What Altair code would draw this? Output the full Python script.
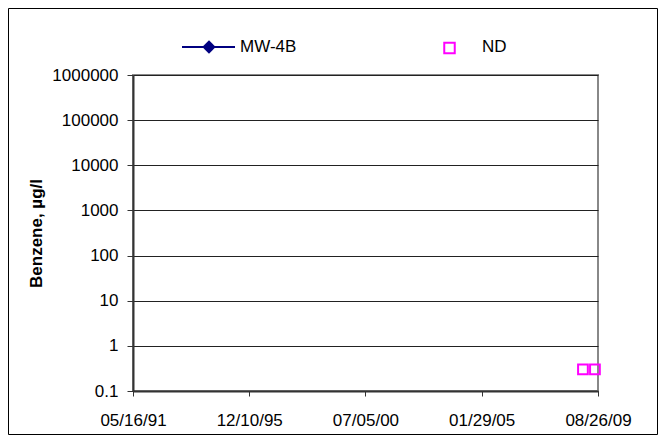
import altair as alt
import pandas as pd

# Data
nd_dates = ["2009-01-22", "2009-07-13"]
nd_values = [0.3, 0.3]
x_tick_dates = ["1991-05-16", "1995-12-10", "2000-07-05", "2005-01-29", "2009-08-26"]
y_ticks = [0.1, 1, 10, 100, 1000, 10000, 100000, 1000000]

nd_df = pd.DataFrame({"date": pd.to_datetime(nd_dates), "value": nd_values})

FONT = "Liberation Sans"
NAVY = "#000080"
MAGENTA = "#FF00FF"
FS = 17

x_enc = alt.X(
    "date:T",
    scale=alt.Scale(domain=[pd.Timestamp("1991-05-16").isoformat(), pd.Timestamp("2009-08-26").isoformat()]),
    axis=alt.Axis(
        values=[pd.Timestamp(d).isoformat() for d in x_tick_dates],
        format="%m/%d/%y",
        title=None,
        grid=False,
        domainColor="#333333",
        domainWidth=2,
        tickColor="#333333",
        tickSize=5,
        labelFont=FONT,
        labelFontSize=FS,
        labelColor="black",
        labelPadding=16,
        labelFlush=False,
    ),
)
y_enc = alt.Y(
    "value:Q",
    scale=alt.Scale(type="log", domain=[0.1, 1000000], nice=False),
    axis=alt.Axis(
        values=y_ticks,
        labelExpr="datum.value < 1 ? '0.1' : format(datum.value, 'd')",
        title="Benzene, µg/l",
        titleFont=FONT,
        titleFontSize=FS,
        titleFontWeight="bold",
        titleColor="black",
        titlePadding=6,
        grid=True,
        gridColor="#222222",
        gridWidth=1,
        domainColor="#333333",
        domainWidth=2,
        tickColor="#333333",
        tickSize=6,
        labelFont=FONT,
        labelFontSize=FS,
        labelColor="black",
        labelPadding=9,
    ),
)

points = alt.Chart(nd_df).mark_point(
    shape="square", filled=False, color=MAGENTA, strokeWidth=2, size=95, opacity=1
).encode(x=x_enc, y=y_enc)

# Outer chart frame
frame = alt.Chart(pd.DataFrame({"a": [0]})).mark_rect(
    fill=None, stroke="black", strokeWidth=1
).encode(
    x=alt.value(-124.5), x2=alt.value(524.5), y=alt.value(-66.5), y2=alt.value(359.5)
)

# Legend
LY = -28
leg_line = alt.Chart(pd.DataFrame({"a": [0]})).mark_rule(color=NAVY, strokeWidth=2).encode(
    x=alt.value(49), x2=alt.value(102), y=alt.value(LY)
)
leg_diamond = alt.Chart(pd.DataFrame({"a": [0]})).mark_point(
    shape="diamond", filled=True, color=NAVY, size=180, opacity=1
).encode(x=alt.value(76), y=alt.value(LY))
leg_text1 = alt.Chart(pd.DataFrame({"a": [0]})).mark_text(
    text="MW-4B", font=FONT, fontSize=FS, align="left", baseline="middle", color="black"
).encode(x=alt.value(107), y=alt.value(LY))
leg_square = alt.Chart(pd.DataFrame({"a": [0]})).mark_point(
    shape="square", filled=False, color=MAGENTA, strokeWidth=2, size=110, opacity=1
).encode(x=alt.value(316.5), y=alt.value(LY + 1))
leg_text2 = alt.Chart(pd.DataFrame({"a": [0]})).mark_text(
    text="ND", font=FONT, fontSize=FS, align="left", baseline="middle", color="black"
).encode(x=alt.value(349), y=alt.value(LY))

chart = alt.layer(
    frame, points, leg_line, leg_diamond, leg_text1, leg_square, leg_text2
).properties(
    width=465,
    height=316,
    autosize=alt.AutoSizeParams(type="none"),
    padding={"left": 125, "top": 67, "right": 60, "bottom": 44},
    background="white",
).configure_view(stroke="#888888", strokeWidth=2)

chart.save("out.html", embed_options={"renderer": "svg", "actions": False})
